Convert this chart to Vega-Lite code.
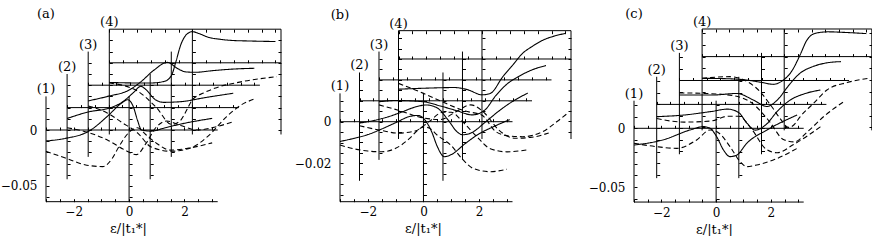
{
"$schema":"https://vega.github.io/schema/vega-lite/v6.json",
"padding":{"left":0,"top":7,"right":0,"bottom":0},
"bounds":"flush",
"spacing":59,
"background":"white",
"config":{"view":{"stroke":null},
"axis":{"domain":false,"grid":false,"ticks":true,"tickSize":-3,"tickColor":"black","tickWidth":1,"labels":false,"labelFont":"DejaVu Serif","labelFontSize":12,"labelColor":"black","titleFont":"DejaVu Serif","titleFontSize":13,"titleFontWeight":"normal","titleColor":"black"},
"line":{"color":"black","strokeWidth":1.1},
"rule":{"color":"black","strokeWidth":1},
"text":{"font":"DejaVu Serif","fontSize":13,"color":"black"}},
"datasets":{
"a1":[{"x":-3,"y":-0.0098,"k":"s"},{"x":-2.3,"y":-0.0075,"k":"s"},{"x":-1.45,"y":-0.001,"k":"s"},{"x":-0.75,"y":0.013,"k":"s"},{"x":-0.3,"y":0.0235,"k":"s"},{"x":-0.05,"y":0.027,"k":"s"},{"x":0.15,"y":0.021,"k":"s"},{"x":0.3,"y":0.009,"k":"s"},{"x":0.45,"y":0,"k":"s"},{"x":0.8,"y":-0.001,"k":"s"},{"x":1.3,"y":0.002,"k":"s"},{"x":2,"y":0.006,"k":"s"},{"x":3,"y":0.0104,"k":"s"},
{"x":-3,"y":-0.019,"k":"d"},{"x":-2.3,"y":-0.025,"k":"d"},{"x":-1.6,"y":-0.031,"k":"d"},{"x":-0.95,"y":-0.0327,"k":"d"},{"x":-0.6,"y":-0.025,"k":"d"},{"x":-0.4,"y":-0.0163,"k":"d"},{"x":-0.18,"y":-0.0075,"k":"d"},{"x":0,"y":-0.002,"k":"d"},{"x":0.3,"y":0.002,"k":"d"},{"x":0.6,"y":-0.004,"k":"d"},{"x":1,"y":-0.012,"k":"d"},{"x":1.5,"y":-0.018,"k":"d"},{"x":2.2,"y":-0.016,"k":"d"},{"x":3,"y":-0.0115,"k":"d"}],
"a2":[{"x":-3,"y":-0.0097,"k":"s"},{"x":-2.2,"y":-0.0037,"k":"s"},{"x":-1.5,"y":-0.0006,"k":"s"},{"x":-1,"y":0.005,"k":"s"},{"x":-0.6,"y":0.0135,"k":"s"},{"x":-0.34,"y":0.019,"k":"s"},{"x":-0.15,"y":0.016,"k":"s"},{"x":0.2,"y":0.0068,"k":"s"},{"x":0.5,"y":0.0047,"k":"s"},{"x":1.1,"y":0.0053,"k":"s"},{"x":2,"y":0.009,"k":"s"},{"x":3,"y":0.0128,"k":"s"},
{"x":-3,"y":-0.018,"k":"d"},{"x":-2.2,"y":-0.0225,"k":"d"},{"x":-1.5,"y":-0.0295,"k":"d"},{"x":-0.9,"y":-0.038,"k":"d"},{"x":-0.5,"y":-0.042,"k":"d"},{"x":-0.15,"y":-0.032,"k":"d"},{"x":0.2,"y":-0.018,"k":"d"},{"x":0.6,"y":-0.012,"k":"d"},{"x":1.1,"y":-0.016,"k":"d"},{"x":1.7,"y":-0.02,"k":"d"},{"x":2.4,"y":-0.017,"k":"d"},{"x":3,"y":-0.0126,"k":"d"}],
"a3":[{"x":-3,"y":-0.014,"k":"s"},{"x":-2.3,"y":-0.01,"k":"s"},{"x":-1.5,"y":-0.004,"k":"s"},{"x":-1.1,"y":0.003,"k":"s"},{"x":-0.62,"y":0.0136,"k":"s"},{"x":-0.14,"y":0.0204,"k":"s"},{"x":0.22,"y":0.015,"k":"s"},{"x":0.5,"y":0.012,"k":"s"},{"x":0.85,"y":0.0115,"k":"s"},{"x":1.5,"y":0.013,"k":"s"},{"x":2.3,"y":0.0145,"k":"s"},{"x":3,"y":0.0151,"k":"s"},
{"x":-3,"y":-0.0185,"k":"d"},{"x":-2.3,"y":-0.025,"k":"d"},{"x":-1.8,"y":-0.033,"k":"d"},{"x":-1.2,"y":-0.043,"k":"d"},{"x":-0.74,"y":-0.055,"k":"d"},{"x":-0.02,"y":-0.059,"k":"d"},{"x":0.7,"y":-0.056,"k":"d"},{"x":1.35,"y":-0.045,"k":"d"},{"x":2,"y":-0.028,"k":"d"},{"x":2.5,"y":-0.018,"k":"d"},{"x":3,"y":-0.0123,"k":"d"}],
"a4":[{"x":-3,"y":-0.0175,"k":"s"},{"x":-2,"y":-0.018,"k":"s"},{"x":-1.5,"y":-0.018,"k":"s"},{"x":-1,"y":-0.0165,"k":"s"},{"x":-0.75,"y":-0.011,"k":"s"},{"x":-0.6,"y":0.0005,"k":"s"},{"x":-0.42,"y":0.016,"k":"s"},{"x":-0.18,"y":0.026,"k":"s"},{"x":0,"y":0.0278,"k":"s"},{"x":0.25,"y":0.026,"k":"s"},{"x":0.55,"y":0.023,"k":"s"},{"x":1,"y":0.021,"k":"s"},{"x":1.4,"y":0.02,"k":"s"},{"x":2,"y":0.0195,"k":"s"},{"x":3,"y":0.019,"k":"s"},
{"x":-3,"y":-0.018,"k":"d"},{"x":-2,"y":-0.025,"k":"d"},{"x":-1.3,"y":-0.04,"k":"d"},{"x":-0.75,"y":-0.055,"k":"d"},{"x":-0.45,"y":-0.052,"k":"d"},{"x":-0.2,"y":-0.042,"k":"d"},{"x":0,"y":-0.033,"k":"d"},{"x":0.4,"y":-0.027,"k":"d"},{"x":0.8,"y":-0.0228,"k":"d"},{"x":1.75,"y":-0.017,"k":"d"},{"x":3.05,"y":-0.0124,"k":"d"}],
"b1":[{"x":-3,"y":-0.0095,"k":"s"},{"x":-2.5,"y":-0.008,"k":"s"},{"x":-2,"y":-0.0062,"k":"s"},{"x":-1.5,"y":-0.0035,"k":"s"},{"x":-1,"y":-0.0005,"k":"s"},{"x":-0.5,"y":0.0025,"k":"s"},{"x":-0.2,"y":0.003,"k":"s"},{"x":0.1,"y":0,"k":"s"},{"x":0.3,"y":-0.005,"k":"s"},{"x":0.5,"y":-0.012,"k":"s"},{"x":0.75,"y":-0.0168,"k":"s"},{"x":1,"y":-0.0158,"k":"s"},{"x":1.5,"y":-0.0105,"k":"s"},{"x":2,"y":-0.0058,"k":"s"},{"x":2.5,"y":-0.0025,"k":"s"},{"x":3.1,"y":0.001,"k":"s"},
{"x":-3,"y":-0.0112,"k":"d"},{"x":-2.5,"y":-0.013,"k":"d"},{"x":-2,"y":-0.0141,"k":"d"},{"x":-1.5,"y":-0.0144,"k":"d"},{"x":-1,"y":-0.0128,"k":"d"},{"x":-0.5,"y":-0.008,"k":"d"},{"x":-0.2,"y":-0.004,"k":"d"},{"x":0,"y":-0.0025,"k":"d"},{"x":0.2,"y":-0.003,"k":"d"},{"x":0.5,"y":-0.0065,"k":"d"},{"x":1,"y":-0.0115,"k":"d"},{"x":1.4,"y":-0.018,"k":"d"},{"x":1.8,"y":-0.0225,"k":"d"},{"x":2.4,"y":-0.024,"k":"d"},{"x":3,"y":-0.0228,"k":"d"}],
"b2":[{"x":-3,"y":-0.0107,"k":"s"},{"x":-2.5,"y":-0.0095,"k":"s"},{"x":-2,"y":-0.0078,"k":"s"},{"x":-1.5,"y":-0.0055,"k":"s"},{"x":-1,"y":-0.003,"k":"s"},{"x":-0.6,"y":-0.002,"k":"s"},{"x":-0.2,"y":-0.0035,"k":"s"},{"x":0.2,"y":-0.0095,"k":"s"},{"x":0.5,"y":-0.0148,"k":"s"},{"x":0.7,"y":-0.0163,"k":"s"},{"x":1,"y":-0.0155,"k":"s"},{"x":1.5,"y":-0.0105,"k":"s"},{"x":2,"y":-0.005,"k":"s"},{"x":2.5,"y":-0.0003,"k":"s"},{"x":3.05,"y":0.0037,"k":"s"},
{"x":-3,"y":-0.012,"k":"d"},{"x":-2.3,"y":-0.014,"k":"d"},{"x":-1.6,"y":-0.0155,"k":"d"},{"x":-1,"y":-0.0145,"k":"d"},{"x":-0.5,"y":-0.01,"k":"d"},{"x":0,"y":-0.0055,"k":"d"},{"x":0.3,"y":-0.0055,"k":"d"},{"x":0.7,"y":-0.01,"k":"d"},{"x":1.2,"y":-0.017,"k":"d"},{"x":1.7,"y":-0.023,"k":"d"},{"x":2.3,"y":-0.0245,"k":"d"},{"x":3.05,"y":-0.0235,"k":"d"}],
"b3":[{"x":-3,"y":-0.0105,"k":"s"},{"x":-2.4,"y":-0.0099,"k":"s"},{"x":-1.4,"y":-0.0105,"k":"s"},{"x":-0.8,"y":-0.0125,"k":"s"},{"x":-0.2,"y":-0.0148,"k":"s"},{"x":0.35,"y":-0.0168,"k":"s"},{"x":0.8,"y":-0.0145,"k":"s"},{"x":1.2,"y":-0.0075,"k":"s"},{"x":1.6,"y":-0.002,"k":"s"},{"x":2,"y":0.0015,"k":"s"},{"x":2.5,"y":0.0048,"k":"s"},{"x":3,"y":0.0069,"k":"s"},
{"x":-3,"y":-0.012,"k":"d"},{"x":-2.2,"y":-0.015,"k":"d"},{"x":-1.5,"y":-0.018,"k":"d"},{"x":-0.8,"y":-0.019,"k":"d"},{"x":-0.2,"y":-0.015,"k":"d"},{"x":0.3,"y":-0.012,"k":"d"},{"x":0.8,"y":-0.016,"k":"d"},{"x":1.3,"y":-0.024,"k":"d"},{"x":1.9,"y":-0.028,"k":"d"},{"x":2.5,"y":-0.0275,"k":"d"},{"x":3.1,"y":-0.0255,"k":"d"}],
"b4":[{"x":-3,"y":-0.0145,"k":"s"},{"x":-2,"y":-0.014,"k":"s"},{"x":-1,"y":-0.0137,"k":"s"},{"x":-0.5,"y":-0.0148,"k":"s"},{"x":0,"y":-0.0172,"k":"s"},{"x":0.3,"y":-0.0165,"k":"s"},{"x":0.75,"y":-0.0085,"k":"s"},{"x":1.1,"y":-0.003,"k":"s"},{"x":1.46,"y":0.0027,"k":"s"},{"x":1.8,"y":0.006,"k":"s"},{"x":2.2,"y":0.0091,"k":"s"},{"x":2.6,"y":0.011,"k":"s"},{"x":3,"y":0.0123,"k":"s"},
{"x":-3,"y":-0.0117,"k":"d"},{"x":-2.1,"y":-0.0165,"k":"d"},{"x":-1.3,"y":-0.0213,"k":"d"},{"x":-0.6,"y":-0.025,"k":"d"},{"x":0,"y":-0.027,"k":"d"},{"x":0.5,"y":-0.0349,"k":"d"},{"x":1,"y":-0.037,"k":"d"},{"x":1.46,"y":-0.0373,"k":"d"},{"x":2.18,"y":-0.0349,"k":"d"},{"x":2.7,"y":-0.03,"k":"d"},{"x":3.08,"y":-0.026,"k":"d"}],
"c1":[{"x":-3,"y":-0.0142,"k":"s"},{"x":-1.95,"y":-0.0099,"k":"s"},{"x":-0.95,"y":-0.0014,"k":"s"},{"x":-0.46,"y":0.0014,"k":"s"},{"x":-0.22,"y":0,"k":"s"},{"x":0.02,"y":-0.0071,"k":"s"},{"x":0.27,"y":-0.0184,"k":"s"},{"x":0.51,"y":-0.024,"k":"s"},{"x":0.76,"y":-0.0226,"k":"s"},{"x":1.12,"y":-0.0127,"k":"s"},{"x":1.86,"y":-0.0014,"k":"s"},{"x":2.96,"y":0.0113,"k":"s"},
{"x":-3,"y":-0.0127,"k":"d"},{"x":-2.2,"y":-0.0155,"k":"d"},{"x":-1.44,"y":-0.017,"k":"d"},{"x":-0.71,"y":-0.0099,"k":"d"},{"x":-0.22,"y":-0.0014,"k":"d"},{"x":0.1,"y":-0.004,"k":"d"},{"x":0.51,"y":-0.0156,"k":"d"},{"x":0.88,"y":-0.0283,"k":"d"},{"x":1.12,"y":-0.0325,"k":"d"},{"x":1.48,"y":-0.0311,"k":"d"},{"x":2.09,"y":-0.0269,"k":"d"},{"x":2.96,"y":-0.017,"k":"d"}],
"c2":[{"x":-3,"y":-0.0104,"k":"s"},{"x":-2,"y":-0.009,"k":"s"},{"x":-1,"y":-0.006,"k":"s"},{"x":-0.4,"y":-0.004,"k":"s"},{"x":0,"y":-0.007,"k":"s"},{"x":0.3,"y":-0.016,"k":"s"},{"x":0.6,"y":-0.0218,"k":"s"},{"x":1,"y":-0.017,"k":"s"},{"x":1.4,"y":-0.006,"k":"s"},{"x":1.9,"y":0.004,"k":"s"},{"x":2.4,"y":0.009,"k":"s"},{"x":2.98,"y":0.0122,"k":"s"},
{"x":-3,"y":-0.012,"k":"d"},{"x":-2,"y":-0.015,"k":"d"},{"x":-1,"y":-0.014,"k":"d"},{"x":-0.4,"y":-0.01,"k":"d"},{"x":0,"y":-0.01,"k":"d"},{"x":0.5,"y":-0.022,"k":"d"},{"x":1,"y":-0.038,"k":"d"},{"x":1.4,"y":-0.041,"k":"d"},{"x":2,"y":-0.034,"k":"d"},{"x":2.98,"y":-0.019,"k":"d"}],
"c3":[{"x":-3,"y":-0.0123,"k":"s"},{"x":-1.8,"y":-0.0123,"k":"s"},{"x":-0.9,"y":-0.011,"k":"s"},{"x":-0.3,"y":-0.0165,"k":"s"},{"x":0.2,"y":-0.022,"k":"s"},{"x":0.6,"y":-0.016,"k":"s"},{"x":1,"y":-0.004,"k":"s"},{"x":1.4,"y":0.006,"k":"s"},{"x":1.9,"y":0.012,"k":"s"},{"x":2.4,"y":0.015,"k":"s"},{"x":2.9,"y":0.016,"k":"s"},
{"x":-3,"y":-0.0105,"k":"d"},{"x":-2,"y":-0.011,"k":"d"},{"x":-1,"y":-0.013,"k":"d"},{"x":-0.3,"y":-0.02,"k":"d"},{"x":0.3,"y":-0.035,"k":"d"},{"x":0.8,"y":-0.05,"k":"d"},{"x":1.2,"y":-0.052,"k":"d"},{"x":1.7,"y":-0.043,"k":"d"},{"x":2.3,"y":-0.03,"k":"d"},{"x":3,"y":-0.018,"k":"d"}],
"c4":[{"x":-3,"y":-0.0184,"k":"s"},{"x":-2,"y":-0.0188,"k":"s"},{"x":-1.4,"y":-0.0198,"k":"s"},{"x":-0.8,"y":-0.022,"k":"s"},{"x":-0.4,"y":-0.0235,"k":"s"},{"x":-0.1,"y":-0.021,"k":"s"},{"x":0.3,"y":-0.0114,"k":"s"},{"x":0.58,"y":0.0014,"k":"s"},{"x":0.83,"y":0.014,"k":"s"},{"x":1.13,"y":0.0197,"k":"s"},{"x":1.6,"y":0.021,"k":"s"},{"x":2.2,"y":0.0205,"k":"s"},{"x":3,"y":0.0195,"k":"s"},
{"x":-3,"y":-0.0184,"k":"d"},{"x":-2,"y":-0.017,"k":"d"},{"x":-1,"y":-0.027,"k":"d"},{"x":-0.5,"y":-0.041,"k":"d"},{"x":-0.15,"y":-0.0524,"k":"d"},{"x":0.15,"y":-0.06,"k":"d"},{"x":0.35,"y":-0.058,"k":"d"},{"x":0.58,"y":-0.051,"k":"d"},{"x":1.07,"y":-0.0396,"k":"d"},{"x":1.56,"y":-0.0283,"k":"d"},{"x":2.3,"y":-0.022,"k":"d"},{"x":3.1,"y":-0.0184,"k":"d"}]
},
"hconcat":[
{"width":235,"height":173,"resolve":{"scale":{"x":"independent","y":"independent"},"axis":{"x":"independent","y":"independent"}},
"layer":[
{"resolve":{"axis":{"x":"independent","y":"independent"}},"layer":[
{"data":{"name":"a1"},"mark":{"type":"line","interpolate":"monotone"},"encoding":{"x":{"field":"x","type":"quantitative","scale":{"domain":[-3,5.4856]},"axis":null},"y":{"field":"y","type":"quantitative","scale":{"domain":[-0.064286,0.090179]},"axis":null},"strokeDash":{"field":"k","type":"nominal","scale":{"domain":["s","d"],"range":[[1,0],[5,3]]},"legend":null}}},
{"data":{"values":[{}]},"mark":"rule","encoding":{"x":{"datum":-3,"type":"quantitative","scale":{"domain":[-3,5.4856]},"axis":null},"y":{"datum":-0.064,"type":"quantitative","scale":{"domain":[-0.064286,0.090179]},"axis":{"orient":"left","offset":0,"values":[-0.06,-0.05,-0.04,-0.03,-0.02,-0.01,0,0.01,0.02],"labels":true,"labelPadding":12,"labelExpr":"datum.value == 0 ? '0' : (datum.value == -0.05 ? '−0.05' : '')","title":null}},"y2":{"datum":0.03}}},
{"data":{"values":[{}]},"mark":"rule","encoding":{"x":{"datum":0,"type":"quantitative","scale":{"domain":[-3,5.4856]},"axis":null},"y":{"datum":-0.064,"type":"quantitative","scale":{"domain":[-0.064286,0.090179]},"axis":{"orient":"left","offset":-83.08,"values":[-0.06,-0.05,-0.04,-0.03,-0.02,-0.01,0,0.01,0.02],"title":null}},"y2":{"datum":0.03}}},
{"data":{"values":[{}]},"mark":"rule","encoding":{"y":{"datum":0,"type":"quantitative","scale":{"domain":[-0.064286,0.090179]},"axis":null},"x":{"datum":-3,"type":"quantitative","scale":{"domain":[-3,5.4856]},"axis":{"orient":"bottom","offset":-72,"values":[-3,-2.5,-2,-1.5,-1,-0.5,0,0.5,1,1.5,2,2.5,3],"title":null}},"x2":{"datum":3.2}}},
{"data":{"values":[{}]},"mark":"rule","encoding":{"y":{"datum":-0.064,"type":"quantitative","scale":{"domain":[-0.064286,0.090179]},"axis":null},"x":{"datum":-3,"type":"quantitative","scale":{"domain":[-3,5.4856]},"axis":{"orient":"bottom","offset":-0.3,"values":[-3,-2.5,-2,-1.5,-1,-0.5,0,0.5,1,1.5,2,2.5,3],"labels":true,"labelPadding":8,"labelExpr":"datum.value == 0 ? '0' : (datum.value == 2 ? '2' : (datum.value == -2 ? '−2' : ''))","title":"ε/|t₁*|","titleX":82,"titlePadding":5}},"x2":{"datum":3.2}}},
{"data":{"values":[{}]},"mark":{"type":"text","dy":-3,"baseline":"alphabetic"},"encoding":{"x":{"datum":-3,"type":"quantitative","scale":{"domain":[-3,5.4856]},"axis":null},"y":{"datum":0.03,"type":"quantitative","scale":{"domain":[-0.064286,0.090179]},"axis":null},"text":{"value":"(1)"}}}
]},
{"resolve":{"axis":{"x":"independent","y":"independent"}},"layer":[
{"data":{"name":"a2"},"mark":{"type":"line","interpolate":"monotone"},"encoding":{"x":{"field":"x","type":"quantitative","scale":{"domain":[-3.7619,4.7237]},"axis":null},"y":{"field":"y","type":"quantitative","scale":{"domain":[-0.084286,0.070179]},"axis":null},"strokeDash":{"field":"k","type":"nominal","scale":{"domain":["s","d"],"range":[[1,0],[5,3]]},"legend":null}}},
{"data":{"values":[{}]},"mark":"rule","encoding":{"x":{"datum":-3,"type":"quantitative","scale":{"domain":[-3.7619,4.7237]},"axis":null},"y":{"datum":-0.064,"type":"quantitative","scale":{"domain":[-0.084286,0.070179]},"axis":{"orient":"left","offset":-21.1,"values":[-0.06,-0.05,-0.04,-0.03,-0.02,-0.01,0,0.01,0.02],"title":null}},"y2":{"datum":0.03}}},
{"data":{"values":[{}]},"mark":"rule","encoding":{"x":{"datum":0,"type":"quantitative","scale":{"domain":[-3.7619,4.7237]},"axis":null},"y":{"datum":-0.064,"type":"quantitative","scale":{"domain":[-0.084286,0.070179]},"axis":{"orient":"left","offset":-104.18,"values":[-0.06,-0.05,-0.04,-0.03,-0.02,-0.01,0,0.01,0.02],"title":null}},"y2":{"datum":0.03}}},
{"data":{"values":[{}]},"mark":"rule","encoding":{"y":{"datum":0,"type":"quantitative","scale":{"domain":[-0.084286,0.070179]},"axis":null},"x":{"datum":-3,"type":"quantitative","scale":{"domain":[-3.7619,4.7237]},"axis":{"orient":"bottom","offset":-94.4,"values":[-3,-2.5,-2,-1.5,-1,-0.5,0,0.5,1,1.5,2,2.5,3],"title":null}},"x2":{"datum":3.2}}},
{"data":{"values":[{}]},"mark":{"type":"text","dy":-3,"baseline":"alphabetic"},"encoding":{"x":{"datum":-3,"type":"quantitative","scale":{"domain":[-3.7619,4.7237]},"axis":null},"y":{"datum":0.03,"type":"quantitative","scale":{"domain":[-0.084286,0.070179]},"axis":null},"text":{"value":"(2)"}}}
]},
{"resolve":{"axis":{"x":"independent","y":"independent"}},"layer":[
{"data":{"name":"a3"},"mark":{"type":"line","interpolate":"monotone"},"encoding":{"x":{"field":"x","type":"quantitative","scale":{"domain":[-4.5238,3.9618]},"axis":null},"y":{"field":"y","type":"quantitative","scale":{"domain":[-0.104286,0.050179]},"axis":null},"strokeDash":{"field":"k","type":"nominal","scale":{"domain":["s","d"],"range":[[1,0],[5,3]]},"legend":null}}},
{"data":{"values":[{}]},"mark":"rule","encoding":{"x":{"datum":-3,"type":"quantitative","scale":{"domain":[-4.5238,3.9618]},"axis":null},"y":{"datum":-0.064,"type":"quantitative","scale":{"domain":[-0.104286,0.050179]},"axis":{"orient":"left","offset":-42.2,"values":[-0.06,-0.05,-0.04,-0.03,-0.02,-0.01,0,0.01,0.02],"title":null}},"y2":{"datum":0.03}}},
{"data":{"values":[{}]},"mark":"rule","encoding":{"x":{"datum":0,"type":"quantitative","scale":{"domain":[-4.5238,3.9618]},"axis":null},"y":{"datum":-0.064,"type":"quantitative","scale":{"domain":[-0.104286,0.050179]},"axis":{"orient":"left","offset":-125.28,"values":[-0.06,-0.05,-0.04,-0.03,-0.02,-0.01,0,0.01,0.02],"title":null}},"y2":{"datum":0.03}}},
{"data":{"values":[{}]},"mark":"rule","encoding":{"y":{"datum":0,"type":"quantitative","scale":{"domain":[-0.104286,0.050179]},"axis":null},"x":{"datum":-3,"type":"quantitative","scale":{"domain":[-4.5238,3.9618]},"axis":{"orient":"bottom","offset":-116.8,"values":[-3,-2.5,-2,-1.5,-1,-0.5,0,0.5,1,1.5,2,2.5,3],"title":null}},"x2":{"datum":3.2}}},
{"data":{"values":[{}]},"mark":{"type":"text","dy":-3,"baseline":"alphabetic"},"encoding":{"x":{"datum":-3,"type":"quantitative","scale":{"domain":[-4.5238,3.9618]},"axis":null},"y":{"datum":0.03,"type":"quantitative","scale":{"domain":[-0.104286,0.050179]},"axis":null},"text":{"value":"(3)"}}}
]},
{"resolve":{"axis":{"x":"independent","y":"independent"}},"layer":[
{"data":{"name":"a4"},"mark":{"type":"line","interpolate":"monotone"},"encoding":{"x":{"field":"x","type":"quantitative","scale":{"domain":[-5.2857,3.2]},"axis":null},"y":{"field":"y","type":"quantitative","scale":{"domain":[-0.124286,0.030179]},"axis":null},"strokeDash":{"field":"k","type":"nominal","scale":{"domain":["s","d"],"range":[[1,0],[5,3]]},"legend":null}}},
{"data":{"values":[{}]},"mark":"rule","encoding":{"x":{"datum":-3,"type":"quantitative","scale":{"domain":[-5.2857,3.2]},"axis":null},"y":{"datum":-0.064,"type":"quantitative","scale":{"domain":[-0.124286,0.030179]},"axis":{"orient":"left","offset":-63.3,"values":[-0.06,-0.05,-0.04,-0.03,-0.02,-0.01,0,0.01,0.02],"title":null}},"y2":{"datum":0.03}}},
{"data":{"values":[{}]},"mark":"rule","encoding":{"x":{"datum":0,"type":"quantitative","scale":{"domain":[-5.2857,3.2]},"axis":null},"y":{"datum":-0.064,"type":"quantitative","scale":{"domain":[-0.124286,0.030179]},"axis":{"orient":"left","offset":-146.38,"values":[-0.06,-0.05,-0.04,-0.03,-0.02,-0.01,0,0.01,0.02],"title":null}},"y2":{"datum":0.03}}},
{"data":{"values":[{}]},"mark":"rule","encoding":{"y":{"datum":0,"type":"quantitative","scale":{"domain":[-0.124286,0.030179]},"axis":null},"x":{"datum":-3,"type":"quantitative","scale":{"domain":[-5.2857,3.2]},"axis":{"orient":"bottom","offset":-139.2,"values":[-3,-2.5,-2,-1.5,-1,-0.5,0,0.5,1,1.5,2,2.5,3],"title":null}},"x2":{"datum":3.2}}},
{"data":{"values":[{}]},"mark":"rule","encoding":{"y":{"datum":0.03,"type":"quantitative","scale":{"domain":[-0.124286,0.030179]},"axis":null},"x":{"datum":-3,"type":"quantitative","scale":{"domain":[-5.2857,3.2]},"axis":{"orient":"top","offset":-0.2,"values":[-3,-2.5,-2,-1.5,-1,-0.5,0,0.5,1,1.5,2,2.5,3],"title":null}},"x2":{"datum":3.2}}},
{"data":{"values":[{}]},"mark":"rule","encoding":{"x":{"datum":3.2,"type":"quantitative","scale":{"domain":[-5.2857,3.2]},"axis":null},"y":{"datum":-0.064,"type":"quantitative","scale":{"domain":[-0.124286,0.030179]},"axis":{"orient":"right","offset":0,"values":[-0.06,-0.05,-0.04,-0.03,-0.02,-0.01,0,0.01,0.02],"title":null}},"y2":{"datum":0.03}}},
{"data":{"values":[{}]},"mark":{"type":"text","dy":-3,"baseline":"alphabetic"},"encoding":{"x":{"datum":-3,"type":"quantitative","scale":{"domain":[-5.2857,3.2]},"axis":null},"y":{"datum":0.03,"type":"quantitative","scale":{"domain":[-0.124286,0.030179]},"axis":null},"text":{"value":"(4)"}}},
{"data":{"values":[{}]},"mark":{"type":"text","dy":-11,"baseline":"alphabetic"},"encoding":{"x":{"datum":-5.2857,"type":"quantitative","scale":{"domain":[-5.2857,3.2]},"axis":null},"y":{"datum":0.03,"type":"quantitative","scale":{"domain":[-0.124286,0.030179]},"axis":null},"text":{"value":"(a)"}}}
]}
]},
{"width":235,"height":173,"resolve":{"scale":{"x":"independent","y":"independent"},"axis":{"x":"independent","y":"independent"}},
"layer":[
{"resolve":{"axis":{"x":"independent","y":"independent"}},"layer":[
{"data":{"name":"b1"},"mark":{"type":"line","interpolate":"monotone"},"encoding":{"x":{"field":"x","type":"quantitative","scale":{"domain":[-3,5.4463]},"axis":null},"y":{"field":"y","type":"quantitative","scale":{"domain":[-0.03855,0.044503]},"axis":null},"strokeDash":{"field":"k","type":"nominal","scale":{"domain":["s","d"],"range":[[1,0],[5,3]]},"legend":null}}},
{"data":{"values":[{}]},"mark":"rule","encoding":{"x":{"datum":-3,"type":"quantitative","scale":{"domain":[-3,5.4463]},"axis":null},"y":{"datum":-0.0384,"type":"quantitative","scale":{"domain":[-0.03855,0.044503]},"axis":{"orient":"left","offset":0,"values":[-0.035,-0.03,-0.025,-0.02,-0.015,-0.01,-0.005,0,0.005,0.01],"labels":true,"labelPadding":12,"labelExpr":"datum.value == 0 ? '0' : (datum.value == -0.02 ? '−0.02' : '')","title":null}},"y2":{"datum":0.0136}}},
{"data":{"values":[{}]},"mark":"rule","encoding":{"x":{"datum":0,"type":"quantitative","scale":{"domain":[-3,5.4463]},"axis":null},"y":{"datum":-0.0384,"type":"quantitative","scale":{"domain":[-0.03855,0.044503]},"axis":{"orient":"left","offset":-83.47,"values":[-0.035,-0.03,-0.025,-0.02,-0.015,-0.01,-0.005,0,0.005,0.01],"title":null}},"y2":{"datum":0.0136}}},
{"data":{"values":[{}]},"mark":"rule","encoding":{"y":{"datum":0,"type":"quantitative","scale":{"domain":[-0.03855,0.044503]},"axis":null},"x":{"datum":-3,"type":"quantitative","scale":{"domain":[-3,5.4463]},"axis":{"orient":"bottom","offset":-80.3,"values":[-3,-2.5,-2,-1.5,-1,-0.5,0,0.5,1,1.5,2,2.5,3],"title":null}},"x2":{"datum":3.2}}},
{"data":{"values":[{}]},"mark":"rule","encoding":{"y":{"datum":-0.0384,"type":"quantitative","scale":{"domain":[-0.03855,0.044503]},"axis":null},"x":{"datum":-3,"type":"quantitative","scale":{"domain":[-3,5.4463]},"axis":{"orient":"bottom","offset":-0.3,"values":[-3,-2.5,-2,-1.5,-1,-0.5,0,0.5,1,1.5,2,2.5,3],"labels":true,"labelPadding":8,"labelExpr":"datum.value == 0 ? '0' : (datum.value == 2 ? '2' : (datum.value == -2 ? '−2' : ''))","title":"ε/|t₁*|","titleX":83,"titlePadding":5}},"x2":{"datum":3.2}}},
{"data":{"values":[{}]},"mark":{"type":"text","dy":-3,"baseline":"alphabetic"},"encoding":{"x":{"datum":-3,"type":"quantitative","scale":{"domain":[-3,5.4463]},"axis":null},"y":{"datum":0.0136,"type":"quantitative","scale":{"domain":[-0.03855,0.044503]},"axis":null},"text":{"value":"(1)"}}}
]},
{"resolve":{"axis":{"x":"independent","y":"independent"}},"layer":[
{"data":{"name":"b2"},"mark":{"type":"line","interpolate":"monotone"},"encoding":{"x":{"field":"x","type":"quantitative","scale":{"domain":[-3.7009,4.7454]},"axis":null},"y":{"field":"y","type":"quantitative","scale":{"domain":[-0.048584,0.03447]},"axis":null},"strokeDash":{"field":"k","type":"nominal","scale":{"domain":["s","d"],"range":[[1,0],[5,3]]},"legend":null}}},
{"data":{"values":[{}]},"mark":"rule","encoding":{"x":{"datum":-3,"type":"quantitative","scale":{"domain":[-3.7009,4.7454]},"axis":null},"y":{"datum":-0.0384,"type":"quantitative","scale":{"domain":[-0.048584,0.03447]},"axis":{"orient":"left","offset":-19.5,"values":[-0.035,-0.03,-0.025,-0.02,-0.015,-0.01,-0.005,0,0.005,0.01],"title":null}},"y2":{"datum":0.0136}}},
{"data":{"values":[{}]},"mark":"rule","encoding":{"x":{"datum":0,"type":"quantitative","scale":{"domain":[-3.7009,4.7454]},"axis":null},"y":{"datum":-0.0384,"type":"quantitative","scale":{"domain":[-0.048584,0.03447]},"axis":{"orient":"left","offset":-102.97,"values":[-0.035,-0.03,-0.025,-0.02,-0.015,-0.01,-0.005,0,0.005,0.01],"title":null}},"y2":{"datum":0.0136}}},
{"data":{"values":[{}]},"mark":"rule","encoding":{"y":{"datum":0,"type":"quantitative","scale":{"domain":[-0.048584,0.03447]},"axis":null},"x":{"datum":-3,"type":"quantitative","scale":{"domain":[-3.7009,4.7454]},"axis":{"orient":"bottom","offset":-101.2,"values":[-3,-2.5,-2,-1.5,-1,-0.5,0,0.5,1,1.5,2,2.5,3],"title":null}},"x2":{"datum":3.2}}},
{"data":{"values":[{}]},"mark":{"type":"text","dy":-3,"baseline":"alphabetic"},"encoding":{"x":{"datum":-3,"type":"quantitative","scale":{"domain":[-3.7009,4.7454]},"axis":null},"y":{"datum":0.0136,"type":"quantitative","scale":{"domain":[-0.048584,0.03447]},"axis":null},"text":{"value":"(2)"}}}
]},
{"resolve":{"axis":{"x":"independent","y":"independent"}},"layer":[
{"data":{"name":"b3"},"mark":{"type":"line","interpolate":"monotone"},"encoding":{"x":{"field":"x","type":"quantitative","scale":{"domain":[-4.4017,4.0445]},"axis":null},"y":{"field":"y","type":"quantitative","scale":{"domain":[-0.058617,0.024436]},"axis":null},"strokeDash":{"field":"k","type":"nominal","scale":{"domain":["s","d"],"range":[[1,0],[5,3]]},"legend":null}}},
{"data":{"values":[{}]},"mark":"rule","encoding":{"x":{"datum":-3,"type":"quantitative","scale":{"domain":[-4.4017,4.0445]},"axis":null},"y":{"datum":-0.0384,"type":"quantitative","scale":{"domain":[-0.058617,0.024436]},"axis":{"orient":"left","offset":-39,"values":[-0.035,-0.03,-0.025,-0.02,-0.015,-0.01,-0.005,0,0.005,0.01],"title":null}},"y2":{"datum":0.0136}}},
{"data":{"values":[{}]},"mark":"rule","encoding":{"x":{"datum":0,"type":"quantitative","scale":{"domain":[-4.4017,4.0445]},"axis":null},"y":{"datum":-0.0384,"type":"quantitative","scale":{"domain":[-0.058617,0.024436]},"axis":{"orient":"left","offset":-122.47,"values":[-0.035,-0.03,-0.025,-0.02,-0.015,-0.01,-0.005,0,0.005,0.01],"title":null}},"y2":{"datum":0.0136}}},
{"data":{"values":[{}]},"mark":"rule","encoding":{"y":{"datum":0,"type":"quantitative","scale":{"domain":[-0.058617,0.024436]},"axis":null},"x":{"datum":-3,"type":"quantitative","scale":{"domain":[-4.4017,4.0445]},"axis":{"orient":"bottom","offset":-122.1,"values":[-3,-2.5,-2,-1.5,-1,-0.5,0,0.5,1,1.5,2,2.5,3],"title":null}},"x2":{"datum":3.2}}},
{"data":{"values":[{}]},"mark":{"type":"text","dy":-3,"baseline":"alphabetic"},"encoding":{"x":{"datum":-3,"type":"quantitative","scale":{"domain":[-4.4017,4.0445]},"axis":null},"y":{"datum":0.0136,"type":"quantitative","scale":{"domain":[-0.058617,0.024436]},"axis":null},"text":{"value":"(3)"}}}
]},
{"resolve":{"axis":{"x":"independent","y":"independent"}},"layer":[
{"data":{"name":"b4"},"mark":{"type":"line","interpolate":"monotone"},"encoding":{"x":{"field":"x","type":"quantitative","scale":{"domain":[-5.1026,3.3437]},"axis":null},"y":{"field":"y","type":"quantitative","scale":{"domain":[-0.068651,0.014402]},"axis":null},"strokeDash":{"field":"k","type":"nominal","scale":{"domain":["s","d"],"range":[[1,0],[5,3]]},"legend":null}}},
{"data":{"values":[{}]},"mark":"rule","encoding":{"x":{"datum":-3,"type":"quantitative","scale":{"domain":[-5.1026,3.3437]},"axis":null},"y":{"datum":-0.0384,"type":"quantitative","scale":{"domain":[-0.068651,0.014402]},"axis":{"orient":"left","offset":-58.5,"values":[-0.035,-0.03,-0.025,-0.02,-0.015,-0.01,-0.005,0,0.005,0.01],"title":null}},"y2":{"datum":0.0136}}},
{"data":{"values":[{}]},"mark":"rule","encoding":{"x":{"datum":0,"type":"quantitative","scale":{"domain":[-5.1026,3.3437]},"axis":null},"y":{"datum":-0.0384,"type":"quantitative","scale":{"domain":[-0.068651,0.014402]},"axis":{"orient":"left","offset":-141.97,"values":[-0.035,-0.03,-0.025,-0.02,-0.015,-0.01,-0.005,0,0.005,0.01],"title":null}},"y2":{"datum":0.0136}}},
{"data":{"values":[{}]},"mark":"rule","encoding":{"y":{"datum":0,"type":"quantitative","scale":{"domain":[-0.068651,0.014402]},"axis":null},"x":{"datum":-3,"type":"quantitative","scale":{"domain":[-5.1026,3.3437]},"axis":{"orient":"bottom","offset":-143,"values":[-3,-2.5,-2,-1.5,-1,-0.5,0,0.5,1,1.5,2,2.5,3],"title":null}},"x2":{"datum":3.2}}},
{"data":{"values":[{}]},"mark":"rule","encoding":{"y":{"datum":0.0136,"type":"quantitative","scale":{"domain":[-0.068651,0.014402]},"axis":null},"x":{"datum":-3,"type":"quantitative","scale":{"domain":[-5.1026,3.3437]},"axis":{"orient":"top","offset":-1.7,"values":[-3,-2.5,-2,-1.5,-1,-0.5,0,0.5,1,1.5,2,2.5,3],"title":null}},"x2":{"datum":3.2}}},
{"data":{"values":[{}]},"mark":"rule","encoding":{"x":{"datum":3.2,"type":"quantitative","scale":{"domain":[-5.1026,3.3437]},"axis":null},"y":{"datum":-0.0384,"type":"quantitative","scale":{"domain":[-0.068651,0.014402]},"axis":{"orient":"right","offset":-4,"values":[-0.035,-0.03,-0.025,-0.02,-0.015,-0.01,-0.005,0,0.005,0.01],"title":null}},"y2":{"datum":0.0136}}},
{"data":{"values":[{}]},"mark":{"type":"text","dy":-3,"baseline":"alphabetic"},"encoding":{"x":{"datum":-3,"type":"quantitative","scale":{"domain":[-5.1026,3.3437]},"axis":null},"y":{"datum":0.0136,"type":"quantitative","scale":{"domain":[-0.068651,0.014402]},"axis":null},"text":{"value":"(4)"}}},
{"data":{"values":[{}]},"mark":{"type":"text","dy":-12,"baseline":"alphabetic"},"encoding":{"x":{"datum":-5.1026,"type":"quantitative","scale":{"domain":[-5.1026,3.3437]},"axis":null},"y":{"datum":0.0136,"type":"quantitative","scale":{"domain":[-0.068651,0.014402]},"axis":null},"text":{"value":"(b)"}}}
]}
]},
{"width":238,"height":173,"resolve":{"scale":{"x":"independent","y":"independent"},"axis":{"x":"independent","y":"independent"}},
"layer":[
{"resolve":{"axis":{"x":"independent","y":"independent"}},"layer":[
{"data":{"name":"c1"},"mark":{"type":"line","interpolate":"monotone"},"encoding":{"x":{"field":"x","type":"quantitative","scale":{"domain":[-3,5.6954]},"axis":null},"y":{"field":"y","type":"quantitative","scale":{"domain":[-0.062458,0.084153]},"axis":null},"strokeDash":{"field":"k","type":"nominal","scale":{"domain":["s","d"],"range":[[1,0],[5,3]]},"legend":null}}},
{"data":{"values":[{}]},"mark":"rule","encoding":{"x":{"datum":-3,"type":"quantitative","scale":{"domain":[-3,5.6954]},"axis":null},"y":{"datum":-0.0625,"type":"quantitative","scale":{"domain":[-0.062458,0.084153]},"axis":{"orient":"left","offset":0,"values":[-0.06,-0.05,-0.04,-0.03,-0.02,-0.01,0,0.01,0.02],"labels":true,"labelPadding":12,"labelExpr":"datum.value == 0 ? '0' : (datum.value == -0.05 ? '−0.05' : '')","title":null}},"y2":{"datum":0.0234}}},
{"data":{"values":[{}]},"mark":"rule","encoding":{"x":{"datum":0,"type":"quantitative","scale":{"domain":[-3,5.6954]},"axis":null},"y":{"datum":-0.0625,"type":"quantitative","scale":{"domain":[-0.062458,0.084153]},"axis":{"orient":"left","offset":-82.11,"values":[-0.06,-0.05,-0.04,-0.03,-0.02,-0.01,0,0.01,0.02],"title":null}},"y2":{"datum":0.0234}}},
{"data":{"values":[{}]},"mark":"rule","encoding":{"y":{"datum":0,"type":"quantitative","scale":{"domain":[-0.062458,0.084153]},"axis":null},"x":{"datum":-3,"type":"quantitative","scale":{"domain":[-3,5.6954]},"axis":{"orient":"bottom","offset":-73.7,"values":[-3,-2.5,-2,-1.5,-1,-0.5,0,0.5,1,1.5,2,2.5,3],"title":null}},"x2":{"datum":3.2}}},
{"data":{"values":[{}]},"mark":"rule","encoding":{"y":{"datum":-0.0625,"type":"quantitative","scale":{"domain":[-0.062458,0.084153]},"axis":null},"x":{"datum":-3,"type":"quantitative","scale":{"domain":[-3,5.6954]},"axis":{"orient":"bottom","offset":0,"values":[-3,-2.5,-2,-1.5,-1,-0.5,0,0.5,1,1.5,2,2.5,3],"labels":true,"labelPadding":8,"labelExpr":"datum.value == 0 ? '0' : (datum.value == 2 ? '2' : (datum.value == -2 ? '−2' : ''))","title":"ε/|t₁*|","titleX":80,"titlePadding":5}},"x2":{"datum":3.2}}},
{"data":{"values":[{}]},"mark":{"type":"text","dy":-3,"baseline":"alphabetic"},"encoding":{"x":{"datum":-3,"type":"quantitative","scale":{"domain":[-3,5.6954]},"axis":null},"y":{"datum":0.0234,"type":"quantitative","scale":{"domain":[-0.062458,0.084153]},"axis":null},"text":{"value":"(1)"}}}
]},
{"resolve":{"axis":{"x":"independent","y":"independent"}},"layer":[
{"data":{"name":"c2"},"mark":{"type":"line","interpolate":"monotone"},"encoding":{"x":{"field":"x","type":"quantitative","scale":{"domain":[-3.8294,4.866]},"axis":null},"y":{"field":"y","type":"quantitative","scale":{"domain":[-0.082712,0.063898]},"axis":null},"strokeDash":{"field":"k","type":"nominal","scale":{"domain":["s","d"],"range":[[1,0],[5,3]]},"legend":null}}},
{"data":{"values":[{}]},"mark":"rule","encoding":{"x":{"datum":-3,"type":"quantitative","scale":{"domain":[-3.8294,4.866]},"axis":null},"y":{"datum":-0.0625,"type":"quantitative","scale":{"domain":[-0.082712,0.063898]},"axis":{"orient":"left","offset":-22.7,"values":[-0.06,-0.05,-0.04,-0.03,-0.02,-0.01,0,0.01,0.02],"title":null}},"y2":{"datum":0.0234}}},
{"data":{"values":[{}]},"mark":"rule","encoding":{"x":{"datum":0,"type":"quantitative","scale":{"domain":[-3.8294,4.866]},"axis":null},"y":{"datum":-0.0625,"type":"quantitative","scale":{"domain":[-0.082712,0.063898]},"axis":{"orient":"left","offset":-104.81,"values":[-0.06,-0.05,-0.04,-0.03,-0.02,-0.01,0,0.01,0.02],"title":null}},"y2":{"datum":0.0234}}},
{"data":{"values":[{}]},"mark":"rule","encoding":{"y":{"datum":0,"type":"quantitative","scale":{"domain":[-0.082712,0.063898]},"axis":null},"x":{"datum":-3,"type":"quantitative","scale":{"domain":[-3.8294,4.866]},"axis":{"orient":"bottom","offset":-97.6,"values":[-3,-2.5,-2,-1.5,-1,-0.5,0,0.5,1,1.5,2,2.5,3],"title":null}},"x2":{"datum":3.2}}},
{"data":{"values":[{}]},"mark":{"type":"text","dy":-3,"baseline":"alphabetic"},"encoding":{"x":{"datum":-3,"type":"quantitative","scale":{"domain":[-3.8294,4.866]},"axis":null},"y":{"datum":0.0234,"type":"quantitative","scale":{"domain":[-0.082712,0.063898]},"axis":null},"text":{"value":"(2)"}}}
]},
{"resolve":{"axis":{"x":"independent","y":"independent"}},"layer":[
{"data":{"name":"c3"},"mark":{"type":"line","interpolate":"monotone"},"encoding":{"x":{"field":"x","type":"quantitative","scale":{"domain":[-4.6587,4.0367]},"axis":null},"y":{"field":"y","type":"quantitative","scale":{"domain":[-0.102966,0.043644]},"axis":null},"strokeDash":{"field":"k","type":"nominal","scale":{"domain":["s","d"],"range":[[1,0],[5,3]]},"legend":null}}},
{"data":{"values":[{}]},"mark":"rule","encoding":{"x":{"datum":-3,"type":"quantitative","scale":{"domain":[-4.6587,4.0367]},"axis":null},"y":{"datum":-0.0625,"type":"quantitative","scale":{"domain":[-0.102966,0.043644]},"axis":{"orient":"left","offset":-45.4,"values":[-0.06,-0.05,-0.04,-0.03,-0.02,-0.01,0,0.01,0.02],"title":null}},"y2":{"datum":0.0234}}},
{"data":{"values":[{}]},"mark":"rule","encoding":{"x":{"datum":0,"type":"quantitative","scale":{"domain":[-4.6587,4.0367]},"axis":null},"y":{"datum":-0.0625,"type":"quantitative","scale":{"domain":[-0.102966,0.043644]},"axis":{"orient":"left","offset":-127.51,"values":[-0.06,-0.05,-0.04,-0.03,-0.02,-0.01,0,0.01,0.02],"title":null}},"y2":{"datum":0.0234}}},
{"data":{"values":[{}]},"mark":"rule","encoding":{"y":{"datum":0,"type":"quantitative","scale":{"domain":[-0.102966,0.043644]},"axis":null},"x":{"datum":-3,"type":"quantitative","scale":{"domain":[-4.6587,4.0367]},"axis":{"orient":"bottom","offset":-121.5,"values":[-3,-2.5,-2,-1.5,-1,-0.5,0,0.5,1,1.5,2,2.5,3],"title":null}},"x2":{"datum":3.2}}},
{"data":{"values":[{}]},"mark":{"type":"text","dy":-3,"baseline":"alphabetic"},"encoding":{"x":{"datum":-3,"type":"quantitative","scale":{"domain":[-4.6587,4.0367]},"axis":null},"y":{"datum":0.0234,"type":"quantitative","scale":{"domain":[-0.102966,0.043644]},"axis":null},"text":{"value":"(3)"}}}
]},
{"resolve":{"axis":{"x":"independent","y":"independent"}},"layer":[
{"data":{"name":"c4"},"mark":{"type":"line","interpolate":"monotone"},"encoding":{"x":{"field":"x","type":"quantitative","scale":{"domain":[-5.488,3.2074]},"axis":null},"y":{"field":"y","type":"quantitative","scale":{"domain":[-0.12322,0.02339]},"axis":null},"strokeDash":{"field":"k","type":"nominal","scale":{"domain":["s","d"],"range":[[1,0],[5,3]]},"legend":null}}},
{"data":{"values":[{}]},"mark":"rule","encoding":{"x":{"datum":-3,"type":"quantitative","scale":{"domain":[-5.488,3.2074]},"axis":null},"y":{"datum":-0.0625,"type":"quantitative","scale":{"domain":[-0.12322,0.02339]},"axis":{"orient":"left","offset":-68.1,"values":[-0.06,-0.05,-0.04,-0.03,-0.02,-0.01,0,0.01,0.02],"title":null}},"y2":{"datum":0.0234}}},
{"data":{"values":[{}]},"mark":"rule","encoding":{"x":{"datum":0,"type":"quantitative","scale":{"domain":[-5.488,3.2074]},"axis":null},"y":{"datum":-0.0625,"type":"quantitative","scale":{"domain":[-0.12322,0.02339]},"axis":{"orient":"left","offset":-150.21,"values":[-0.06,-0.05,-0.04,-0.03,-0.02,-0.01,0,0.01,0.02],"title":null}},"y2":{"datum":0.0234}}},
{"data":{"values":[{}]},"mark":"rule","encoding":{"y":{"datum":0,"type":"quantitative","scale":{"domain":[-0.12322,0.02339]},"axis":null},"x":{"datum":-3,"type":"quantitative","scale":{"domain":[-5.488,3.2074]},"axis":{"orient":"bottom","offset":-145.4,"values":[-3,-2.5,-2,-1.5,-1,-0.5,0,0.5,1,1.5,2,2.5,3],"title":null}},"x2":{"datum":3.2}}},
{"data":{"values":[{}]},"mark":"rule","encoding":{"y":{"datum":0.0234,"type":"quantitative","scale":{"domain":[-0.12322,0.02339]},"axis":null},"x":{"datum":-3,"type":"quantitative","scale":{"domain":[-5.488,3.2074]},"axis":{"orient":"top","offset":0,"values":[-3,-2.5,-2,-1.5,-1,-0.5,0,0.5,1,1.5,2,2.5,3],"title":null}},"x2":{"datum":3.2}}},
{"data":{"values":[{}]},"mark":"rule","encoding":{"x":{"datum":3.2,"type":"quantitative","scale":{"domain":[-5.488,3.2074]},"axis":null},"y":{"datum":-0.0625,"type":"quantitative","scale":{"domain":[-0.12322,0.02339]},"axis":{"orient":"right","offset":0,"values":[-0.06,-0.05,-0.04,-0.03,-0.02,-0.01,0,0.01,0.02],"title":null}},"y2":{"datum":0.0234}}},
{"data":{"values":[{}]},"mark":{"type":"text","dy":-3,"baseline":"alphabetic"},"encoding":{"x":{"datum":-3,"type":"quantitative","scale":{"domain":[-5.488,3.2074]},"axis":null},"y":{"datum":0.0234,"type":"quantitative","scale":{"domain":[-0.12322,0.02339]},"axis":null},"text":{"value":"(4)"}}},
{"data":{"values":[{}]},"mark":{"type":"text","dy":-11,"baseline":"alphabetic"},"encoding":{"x":{"datum":-5.488,"type":"quantitative","scale":{"domain":[-5.488,3.2074]},"axis":null},"y":{"datum":0.0234,"type":"quantitative","scale":{"domain":[-0.12322,0.02339]},"axis":null},"text":{"value":"(c)"}}}
]}
]}
]
}
